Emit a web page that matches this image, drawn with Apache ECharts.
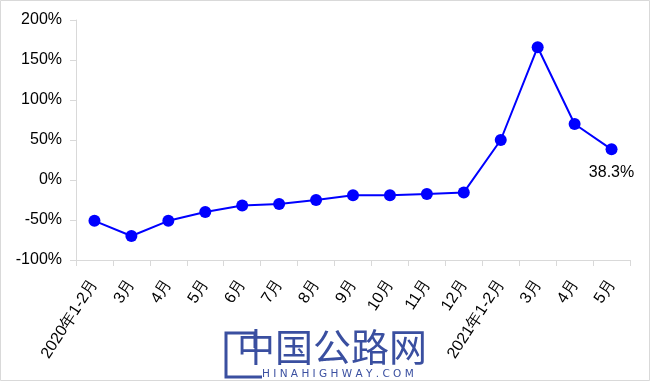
<!DOCTYPE html>
<html><head><meta charset="utf-8">
<script src="https://cdn.jsdelivr.net/npm/echarts@6/dist/echarts.min.js"></script>
<style>html,body{margin:0;padding:0;background:#fff}#c{width:650px;height:381px}</style>
</head><body><div id="c"></div>
<script>
var categories = ['2020年1-2月','3月','4月','5月','6月','7月','8月','9月','10月','11月','12月','2021年1-2月','3月','4月','5月'];
var growth = [-51, -70, -51, -40, -32, -30, -25, -19, -19, -17.5, -15.5, 50, 166, 70, 38.3];
var yTicks = [-100, -50, 0, 50, 100, 150, 200];
var lastLabel = '38.3%';

var chart = echarts.init(document.getElementById('c'), null, {renderer:'canvas'});
var font = '"Liberation Sans", Arial, sans-serif';
chart.setOption({
  backgroundColor: '#fff',
  animation: false,
  grid: {left: 76, right: 20, top: 20, bottom: 121},
  xAxis: {
    type: 'category', data: categories, boundaryGap: true,
    axisLine: {onZero: false, lineStyle: {color: '#d9d9d9', width: 1}},
    axisTick: {show: true, length: 6, lineStyle: {color: '#d9d9d9'}},
    axisLabel: {rotate: 57, color: '#000', fontFamily: font, fontSize: 16, margin: 21, interval: 0}
  },
  yAxis: {
    type: 'value', min: yTicks[0], max: yTicks[yTicks.length-1], interval: 50,
    axisLine: {show: true, lineStyle: {color: '#d9d9d9', width: 1}},
    axisTick: {show: true, length: 6, lineStyle: {color: '#d9d9d9'}},
    splitLine: {show: false},
    axisLabel: {color: '#000', fontFamily: font, fontSize: 16, margin: 14, formatter: function(v){return v + '%';}}
  },
  series: [{
    type: 'line', data: growth.map(function(v, i){
      if (i === growth.length - 1) return {value: v, label: {show: true, position: 'bottom', distance: 9, formatter: lastLabel, color: '#000', fontFamily: font, fontSize: 16}};
      return v;
    }),
    symbol: 'circle', symbolSize: 12,
    lineStyle: {color: '#0000ff', width: 2},
    itemStyle: {color: '#0000ff'}
  }],
  graphic: [
    {type: 'rect', shape: {x: 0.5, y: 0.5, width: 649, height: 380}, style: {fill: 'none', stroke: '#d9d9d9', lineWidth: 1}, silent: true},
    {type: 'polyline', shape: {points: [[255, 333], [226, 333], [226, 377], [262, 377]]}, style: {fill: 'none', stroke: '#3a4fa0', lineWidth: 3}},
    {type: 'line', shape: {x1: 255, y1: 333, x2: 255, y2: 348}, style: {stroke: '#3a4fa0', lineWidth: 3}},
    {type: 'text', left: 237, top: 328, style: {text: '中国公路网', fill: '#3a4fa0', font: '38px "Noto Sans CJK SC", sans-serif'}},
    {type: 'text', left: 262, top: 369, style: {text: 'H I N A H I G H W A Y . C O M', fill: '#3a4fa0', font: '10.5px "DejaVu Sans", sans-serif'}}
  ]
});
</script></body></html>
